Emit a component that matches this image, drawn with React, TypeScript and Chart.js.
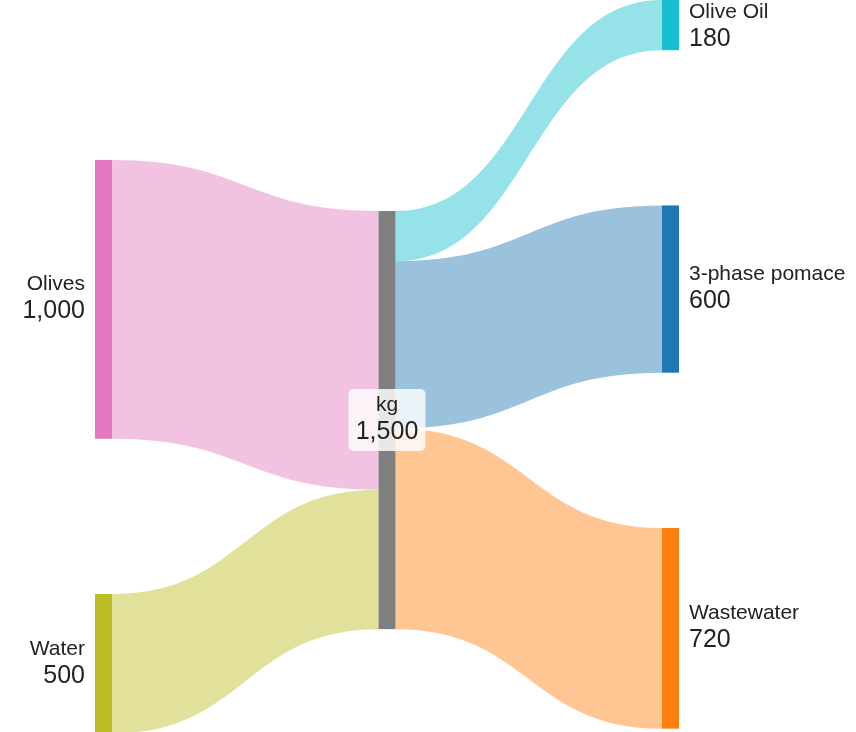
import React, { useEffect, useRef } from "react";
import { Chart, registerables } from "chart.js";

Chart.register(...registerables);

// ---- data ----
const nodeNames = ["Olives", "Water", "kg", "Olive Oil", "3-phase pomace", "Wastewater"];
const nodeColors = ["#e377c2", "#bcbd22", "#7f7f7f", "#17becf", "#1f77b4", "#ff7f0e"];
const linkSource = [0, 1, 2, 2, 2];
const linkTarget = [2, 2, 3, 4, 5];
const linkValues = [1000, 500, 180, 600, 720];
const linkColors = [
  "rgba(227,119,194,0.45)",
  "rgba(188,189,34,0.45)",
  "rgba(23,190,207,0.45)",
  "rgba(31,119,180,0.45)",
  "rgba(255,127,14,0.45)",
];

// ---- layout (in scale units) ----
const nodeColumn = [0, 0, 1, 2, 2, 2];
const columnStart = [574, 757, 0];
const nodeGap = 557;
const X_MIN = -0.3351;
const X_MAX = 2.6843;
const Y_MAX = 2626;
const NODE_W = 17;
const FONT = "'Liberation Sans', Arial, Helvetica, sans-serif";

const fmt = (v: number) => v.toLocaleString("en-US");

const sankeyPlugin = {
  id: "sankeyDraw",
  afterDatasetsDraw(chart: any) {
    const ctx = chart.ctx as CanvasRenderingContext2D;
    const xs = chart.scales.x;
    const ys = chart.scales.y;
    const n = nodeNames.length;
    const inSum = new Array(n).fill(0);
    const outSum = new Array(n).fill(0);
    linkValues.forEach((v, i) => {
      outSum[linkSource[i]] += v;
      inSum[linkTarget[i]] += v;
    });
    const nodeVal = nodeNames.map((_, i) => Math.max(inSum[i], outSum[i]));
    const nodeTop: number[] = new Array(n).fill(0);
    const colCursor = [...columnStart];
    for (let i = 0; i < n; i++) {
      const c = nodeColumn[i];
      nodeTop[i] = colCursor[c];
      colCursor[c] += nodeVal[i] + nodeGap;
    }
    const outOff = new Array(n).fill(0);
    const inOff = new Array(n).fill(0);
    // flows
    linkValues.forEach((v, i) => {
      const s = linkSource[i];
      const t = linkTarget[i];
      const x0 = xs.getPixelForValue(nodeColumn[s]) + NODE_W;
      const x1 = xs.getPixelForValue(nodeColumn[t]);
      const y0t = ys.getPixelForValue(nodeTop[s] + outOff[s]);
      const y0b = ys.getPixelForValue(nodeTop[s] + outOff[s] + v);
      const y1t = ys.getPixelForValue(nodeTop[t] + inOff[t]);
      const y1b = ys.getPixelForValue(nodeTop[t] + inOff[t] + v);
      outOff[s] += v;
      inOff[t] += v;
      const xm = (x0 + x1) / 2;
      ctx.save();
      ctx.beginPath();
      ctx.moveTo(x0, y0t);
      ctx.bezierCurveTo(xm, y0t, xm, y1t, x1, y1t);
      ctx.lineTo(x1, y1b);
      ctx.bezierCurveTo(xm, y1b, xm, y0b, x0, y0b);
      ctx.closePath();
      ctx.fillStyle = linkColors[i];
      ctx.fill();
      ctx.restore();
    });
    // nodes
    for (let i = 0; i < n; i++) {
      const x = xs.getPixelForValue(nodeColumn[i]);
      const yT = ys.getPixelForValue(nodeTop[i]);
      const yB = ys.getPixelForValue(nodeTop[i] + nodeVal[i]);
      ctx.fillStyle = nodeColors[i];
      ctx.fillRect(x, yT, NODE_W, yB - yT);
    }
    // labels
    const maxCol = Math.max(...nodeColumn);
    for (let i = 0; i < n; i++) {
      const c = nodeColumn[i];
      const x = xs.getPixelForValue(c);
      const yT = ys.getPixelForValue(nodeTop[i]);
      const yB = ys.getPixelForValue(nodeTop[i] + nodeVal[i]);
      const cy = Math.max((yT + yB) / 2, 27);
      ctx.save();
      ctx.fillStyle = "#222";
      ctx.textBaseline = "middle";
      if (c === 0) {
        ctx.textAlign = "right";
        ctx.font = `21px ${FONT}`;
        ctx.fillText(nodeNames[i], x - 10, cy - 15);
        ctx.font = `25px ${FONT}`;
        ctx.fillText(fmt(nodeVal[i]), x - 10, cy + 12);
      } else if (c === maxCol) {
        ctx.textAlign = "left";
        ctx.font = `21px ${FONT}`;
        ctx.fillText(nodeNames[i], x + NODE_W + 10, cy - 15);
        ctx.font = `25px ${FONT}`;
        ctx.fillText(fmt(nodeVal[i]), x + NODE_W + 10, cy + 12);
      } else {
        const cx = x + NODE_W / 2;
        const bw = 77;
        const bh = 62;
        ctx.fillStyle = "rgba(255,255,255,0.82)";
        ctx.beginPath();
        (ctx as any).roundRect(cx - bw / 2, cy - bh / 2, bw, bh, 5);
        ctx.fill();
        ctx.fillStyle = "#222";
        ctx.textAlign = "center";
        ctx.font = `21px ${FONT}`;
        ctx.fillText(nodeNames[i], cx, cy - 15);
        ctx.font = `25px ${FONT}`;
        ctx.fillText(fmt(nodeVal[i]), cx, cy + 12);
      }
      ctx.restore();
    }
  },
};

export default function App() {
  const ref = useRef<HTMLCanvasElement>(null);
  useEffect(() => {
    if (!ref.current) return;
    const chart = new Chart(ref.current, {
      type: "scatter",
      data: { datasets: [{ data: [] }] },
      options: {
        animation: false,
        responsive: false,
        layout: { padding: 0 },
        plugins: { legend: { display: false }, tooltip: { enabled: false } },
        scales: {
          x: { type: "linear", display: false, min: X_MIN, max: X_MAX },
          y: { type: "linear", display: false, reverse: true, min: 0, max: Y_MAX },
        },
      },
      plugins: [sankeyPlugin],
    } as any);
    return () => chart.destroy();
  }, []);
  return (
    <div style={{ position: "absolute", left: 0, top: 0, width: 856, height: 732, background: "#fff" }}>
      <canvas ref={ref} width={856} height={732} style={{ display: "block" }} />
    </div>
  );
}
